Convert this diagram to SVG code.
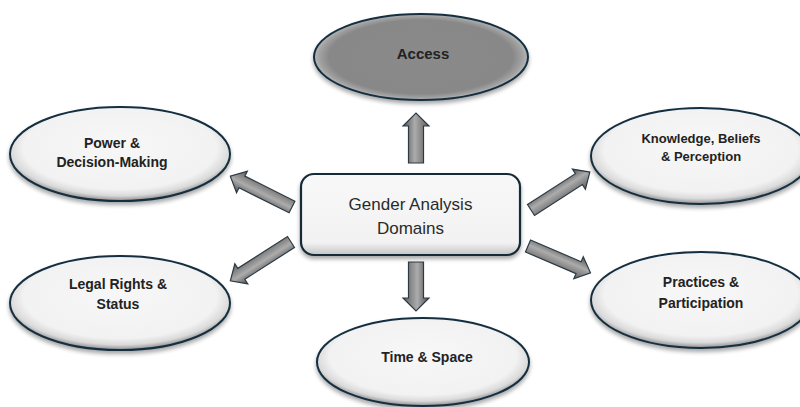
<svg xmlns="http://www.w3.org/2000/svg" width="800" height="407" viewBox="0 0 800 407">
  <defs>
    <!-- soft bevel for the light ovals -->
    <radialGradient id="bevelLight" cx="50%" cy="45%" r="55%" fx="50%" fy="38%">
      <stop offset="0" stop-color="#f7f7f7"/>
      <stop offset="0.8" stop-color="#f2f2f2"/>
      <stop offset="0.91" stop-color="#dadada"/>
      <stop offset="1" stop-color="#8c8c8c"/>
    </radialGradient>
    <!-- mid-grey fill with a lighter rim for the highlighted oval -->
    <radialGradient id="bevelDark" cx="50%" cy="50%" r="50%">
      <stop offset="0" stop-color="#8a8a8a"/>
      <stop offset="0.86" stop-color="#888888"/>
      <stop offset="0.95" stop-color="#a2a2a2"/>
      <stop offset="1" stop-color="#b8b8b8"/>
    </radialGradient>
    <linearGradient id="boxFill" x1="0" y1="0" x2="0" y2="1">
      <stop offset="0" stop-color="#f8f8f8"/>
      <stop offset="0.85" stop-color="#f2f2f2"/>
      <stop offset="1" stop-color="#c4c4c4"/>
    </linearGradient>
    <!-- shading across the width of each block arrow -->
    <linearGradient id="arrowFill" x1="0" y1="0" x2="0" y2="1">
      <stop offset="0" stop-color="#505050"/>
      <stop offset="0.45" stop-color="#acacac"/>
      <stop offset="1" stop-color="#5c5c5c"/>
    </linearGradient>
    <filter id="shadow" x="-10%" y="-10%" width="120%" height="130%" color-interpolation-filters="sRGB">
      <feGaussianBlur in="SourceAlpha" stdDeviation="2"/>
      <feOffset dy="3" result="b"/>
      <feComponentTransfer><feFuncA type="linear" slope="0.35"/></feComponentTransfer>
      <feMerge><feMergeNode/><feMergeNode in="SourceGraphic"/></feMerge>
    </filter>
  </defs>
  <style>
    .oval { fill: url(#bevelLight); stroke: #132f40; stroke-width: 2; filter: url(#shadow); }
    .oval.dark { fill: url(#bevelDark); }
    .box { fill: url(#boxFill); stroke: #162b38; stroke-width: 2.2; filter: url(#shadow); }
    .label { font-family: "Liberation Sans", Arial, sans-serif; font-weight: bold; fill: #222; text-anchor: middle; }
    .title { font-family: "Liberation Sans", Arial, sans-serif; font-size: 17px; fill: #2a2a2a; text-anchor: middle; }
    .arrow { fill: url(#arrowFill); stroke: #2b3a44; stroke-width: 1.2; stroke-linejoin: miter; }
  </style>

  <rect width="800" height="407" fill="#ffffff"/>

  <!-- connectors: block arrows from the central box outward -->
  <g id="connectors">
    <path class="arrow" transform="translate(416,163) rotate(-90)" d="M0,-7.5 L37,-7.5 L37,-13 L50,0 L37,13 L37,7.5 L0,7.5 Z"/>
    <path class="arrow" transform="translate(416,262) rotate(90)" d="M0,-7.5 L36,-7.5 L36,-13 L49,0 L36,13 L36,7.5 L0,7.5 Z"/>
    <path class="arrow" transform="translate(292,207) rotate(206.6)" d="M0,-6.5 L56,-6.5 L56,-12 L69,0 L56,12 L56,6.5 L0,6.5 Z"/>
    <path class="arrow" transform="translate(291,242) rotate(147.4)" d="M0,-6.5 L59,-6.5 L59,-12 L72,0 L59,12 L59,6.5 L0,6.5 Z"/>
    <path class="arrow" transform="translate(531,210) rotate(-32.8)" d="M0,-6.5 L57,-6.5 L57,-12 L70,0 L57,12 L57,6.5 L0,6.5 Z"/>
    <path class="arrow" transform="translate(528,246) rotate(23.2)" d="M0,-6.5 L55,-6.5 L55,-12 L68,0 L55,12 L55,6.5 L0,6.5 Z"/>
  </g>

  <g id="center">
    <rect class="box" x="301" y="174" width="219" height="81" rx="13"/>
    <text class="title" x="410.5" y="210">Gender Analysis</text>
    <text class="title" x="410.5" y="234">Domains</text>
  </g>

  <g id="access">
    <ellipse class="oval dark" cx="421" cy="57" rx="107" ry="43"/>
    <text class="label" x="423" y="59" font-size="15">Access</text>
  </g>

  <g id="power">
    <ellipse class="oval" cx="120" cy="154" rx="110" ry="47"/>
    <text class="label" x="112" y="148" font-size="14">Power &amp;</text>
    <text class="label" x="112" y="167" font-size="14">Decision-Making</text>
  </g>

  <g id="legal">
    <ellipse class="oval" cx="120" cy="303" rx="110" ry="47"/>
    <text class="label" x="118" y="289" font-size="14">Legal Rights &amp;</text>
    <text class="label" x="118" y="309" font-size="14">Status</text>
  </g>

  <g id="knowledge">
    <ellipse class="oval" cx="701" cy="156" rx="110" ry="48"/>
    <text class="label" x="701" y="143" font-size="13">Knowledge, Beliefs</text>
    <text class="label" x="701" y="161" font-size="13">&amp; Perception</text>
  </g>

  <g id="practices">
    <ellipse class="oval" cx="701" cy="300" rx="110" ry="48"/>
    <text class="label" x="701" y="287" font-size="14">Practices &amp;</text>
    <text class="label" x="701" y="308" font-size="14">Participation</text>
  </g>

  <g id="time-space">
    <ellipse class="oval" cx="423" cy="362" rx="106" ry="44"/>
    <text class="label" x="427" y="362" font-size="14">Time &amp; Space</text>
  </g>
</svg>
